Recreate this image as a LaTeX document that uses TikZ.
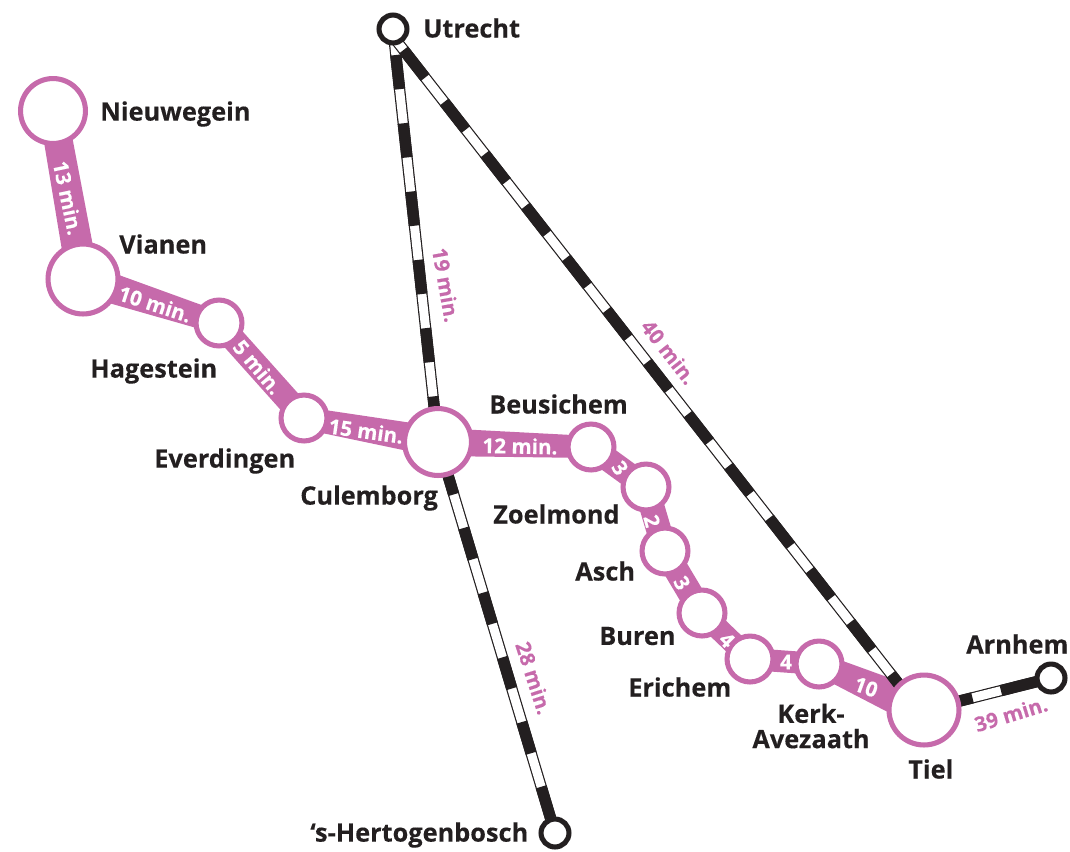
\documentclass[tikz,border=0pt]{standalone}
\usepackage{fontspec}
\setmainfont{Open Sans}[BoldFeatures={FakeBold=0.25}]
\usetikzlibrary{backgrounds,calc}
\definecolor{pk}{HTML}{C66AAB}
\definecolor{ink}{HTML}{231F20}
\tikzset{
 x=0.75pt,y=-0.75pt,
 big/.style={circle,draw=pk,line width=3.8pt,fill=white,minimum size=#1*0.75pt-3.8pt,inner sep=0pt,outer sep=0pt},
 term/.style={circle,draw=ink,line width=3.8pt,fill=white,minimum size=33*0.75pt-3.8pt,inner sep=0pt,outer sep=0pt},
 lbl/.style={font=\fontsize{19}{20}\selectfont\bfseries,text=ink,inner sep=0pt,align=center},
 wt/.style={font=\fontsize{15.5}{16}\selectfont\bfseries,text=white,inner sep=0pt},
 pt/.style={font=\fontsize{15.5}{16}\selectfont\bfseries,text=pk,inner sep=0pt},
 railbase/.style={draw=ink,line width=8.5pt},
 railwhite/.style={draw=white,line width=6.7pt},
 raildash/.style={draw=ink,line width=8.5pt},
}
% tapered pink connector: from, to, width at from, width at to (px)
\newcommand{\taper}[4]{%
 \fill[pk] ($(#1.center)!#3*0.375pt!90:(#2.center)$) -- ($(#2.center)!#4*0.375pt!-90:(#1.center)$)
  -- ($(#2.center)!#4*0.375pt!90:(#1.center)$) -- ($(#1.center)!#3*0.375pt!-90:(#2.center)$) -- cycle;
}
% rail: from, to, on, off, phase (pt)
\newcommand{\rail}[5]{%
 \draw[railbase] (#1) -- (#2);
 \draw[railwhite] (#1) -- (#2);
 \draw[raildash,dash pattern=on #3pt off #4pt,dash phase=#5pt] (#1) -- (#2);
}
\begin{document}
\begin{tikzpicture}
\useasboundingbox (0,0) rectangle (1070,851);
\node[big=70] (nieuw) at (53,111) {};
\node[big=75] (vianen) at (83,279) {};
\node[big=51] (hage) at (219,323) {};
\node[big=51] (ever) at (304,418) {};
\node[big=72] (cul) at (438,442) {};
\node[big=51] (beu) at (591,447) {};
\node[big=51] (zoe) at (646,487) {};
\node[big=51] (asch) at (665,551) {};
\node[big=51] (buren) at (702,613) {};
\node[big=51] (eri) at (750,659) {};
\node[big=51] (kerk) at (819,664) {};
\node[big=75] (tiel) at (924,710) {};
\node[term] (utr) at (393,29) {};
\node[term] (arn) at (1051,678) {};
\node[term] (hert) at (555,833) {};
\coordinate (utrT) at (388,30);
\coordinate (tielT) at (919,710);
\begin{pgfonlayer}{background}
\taper{nieuw}{vianen}{28}{32}
\taper{vianen}{hage}{32}{22}
\taper{hage}{ever}{24}{24}
\taper{ever}{cul}{22}{30}
\taper{cul}{beu}{28}{22}
\taper{beu}{zoe}{24}{24}
\taper{zoe}{asch}{25}{25}
\taper{asch}{buren}{25}{25}
\taper{buren}{eri}{22}{22}
\taper{eri}{kerk}{22}{22}
\taper{kerk}{tiel}{22}{37}
\rail{utr.center}{cul.center}{25.76}{25.76}{31.9}
\rail{utrT}{tielT}{26.25}{23.25}{30.5}
\rail{cul.center}{hert.center}{24.4}{26.25}{34}
\rail{tiel.center}{arn.center}{37.5}{22}{0}
\end{pgfonlayer}
\node[lbl,anchor=west] (t1) at (100,114) {Nieuwegein};
\node[lbl,anchor=west] (t2) at (119,244) {Vianen};
\node[lbl,anchor=west] (t3) at (90,371) {Hagestein};
\node[lbl,anchor=west] (t4) at (154,461) {Everdingen};
\node[lbl,anchor=west] (t5) at (300,498) {Culemborg};
\node[lbl,anchor=west] (t6) at (489,404) {Beusichem};
\node[lbl,anchor=west] (t7) at (493,514) {Zoelmond};
\node[lbl,anchor=west] (t8) at (575,571) {Asch};
\node[lbl,anchor=west] (t9) at (599,636) {Buren};
\node[lbl,anchor=west] (t10) at (628,687) {Erichem};
\node[lbl,align=center] (t11) at (811,726) {Kerk-\\[-1pt]Avezaath};
\node[lbl,anchor=west] (t12) at (908,769) {Tiel};
\node[lbl,anchor=west] (t13) at (423,28) {Utrecht};
\node[lbl,anchor=west] (t14) at (966,644) {Arnhem};
\node[lbl,anchor=west] (t15) at (310,835) {‘s-Hertogenbosch};
\node[wt,rotate=-78] (m1) at (68,198) {13 min.};
\node[wt,rotate=-18] (m2) at (155,304) {10 min.};
\node[wt,rotate=-50] (m3) at (258,367) {5 min.};
\node[wt,rotate=-8] (m4) at (366,431) {15 min.};
\node[wt,rotate=-1] (m5) at (520,446) {12 min.};
\node[wt,rotate=-55] (m6) at (620,468) {3};
\node[wt,rotate=-75] (m7) at (652,521) {2};
\node[wt,rotate=-60] (m8) at (682,583) {3};
\node[wt,rotate=-45] (m9) at (727,640) {4};
\node[wt] (m10) at (786,662) {4};
\node[wt,rotate=-20] (m11) at (866,687) {10};
\node[pt,rotate=-80] (p1) at (446,285) {19 min.};
\node[pt,rotate=-52] (p2) at (669,352) {40 min.};
\node[pt,rotate=-72] (p3) at (534,678) {28 min.};
\node[pt,rotate=17] (p4) at (1011,714) {39 min.};
\end{tikzpicture}
\end{document}
